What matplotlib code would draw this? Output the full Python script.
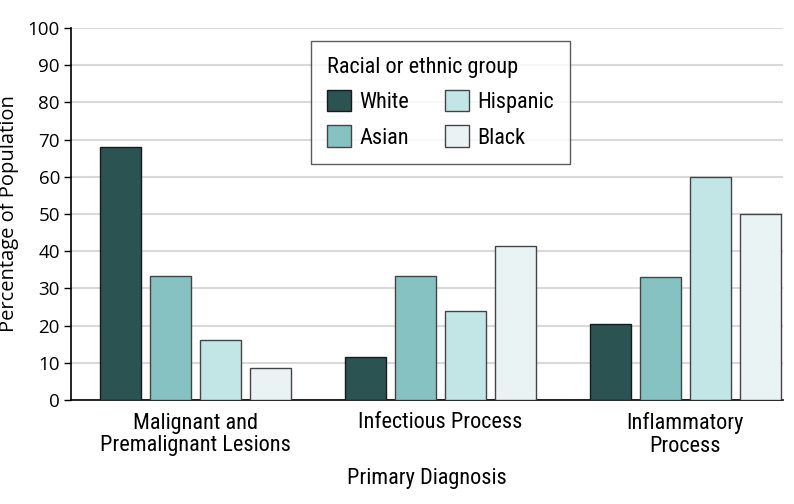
import matplotlib
matplotlib.use("Agg")
import matplotlib.pyplot as plt
from matplotlib import font_manager
import numpy as np

categories = ["Malignant and\nPremalignant Lesions", "Infectious Process", "Inflammatory\nProcess"]
groups = ["White", "Asian", "Hispanic", "Black"]
white = [67.9, 11.5, 20.3]
asian = [33.4, 33.2, 33.0]
hispanic = [16.0, 24.0, 59.9]
black = [8.7, 41.3, 49.9]
colors = ["#2b5352", "#86c2c1", "#c1e6e5", "#e9f3f4"]
yticks = list(range(0, 101, 10))

names = {f.name for f in font_manager.fontManager.ttflist}
fam = "Lato"
for cand in ["Roboto Condensed", "Open Sans Condensed", "Liberation Sans Narrow", "Lato"]:
    if cand in names:
        fam = cand
        break
plain = "Open Sans" if "Open Sans" in names else "DejaVu Sans"
plt.rcParams['font.family'] = [fam, 'DejaVu Sans']
FS = 16

fig = plt.figure(figsize=(7.94, 5.04), dpi=100)
ax = fig.add_axes([71/794, 1-400/504, (783-71)/794, (400-28)/504])

x = np.arange(len(categories))
step = 50/245
width = 41/245
series = [white, asian, hispanic, black]
edges = ["#1a1a1a", "#444444", "#444444", "#444444"]
for i, (vals, c, g) in enumerate(zip(series, colors, groups)):
    ax.bar(x + (i-1.5)*step, vals, width, color=c, edgecolor=edges[i], linewidth=1.0, label=g, zorder=3)

ax.set_ylim(0, 100)
ax.set_xlim(-125/245, 588/245)
ax.set_yticks(yticks)
ax.yaxis.grid(True, color="#d9d9d9", linewidth=1.5, zorder=0)
ax.set_axisbelow(True)
ax.set_xticks(x)
ax.set_xticklabels(categories, fontsize=FS, linespacing=1.1)
ax.tick_params(axis='x', length=0, pad=9)
ax.tick_params(axis='y', labelsize=13.5, length=5, width=1, pad=3)
for t in ax.get_yticklabels():
    t.set_fontfamily([plain, 'DejaVu Sans'])
for s in ["top", "right"]:
    ax.spines[s].set_visible(False)
for s in ["left", "bottom"]:
    ax.spines[s].set_linewidth(1.2)
ax.set_ylabel("Percentage of Population", fontsize=14.5, labelpad=6, family=[plain, 'DejaVu Sans'])
ax.set_xlabel("Primary Diagnosis", fontsize=FS, labelpad=8)

handles, labels = ax.get_legend_handles_labels()
leg = ax.legend(handles, labels, ncol=2,
                title="Racial or ethnic group", fontsize=FS, title_fontsize=FS,
                loc="upper left", bbox_to_anchor=((311-71)/712, 1-(41-28)/372),
                borderaxespad=0,
                frameon=True, fancybox=False, edgecolor="#333333",
                handlelength=1.08, handleheight=1.12, columnspacing=1.6,
                borderpad=0.7, labelspacing=0.55, handletextpad=0.4)
leg._legend_box.align = "left"
leg.get_frame().set_linewidth(1.0)

fig.savefig("out.png", dpi=100)
